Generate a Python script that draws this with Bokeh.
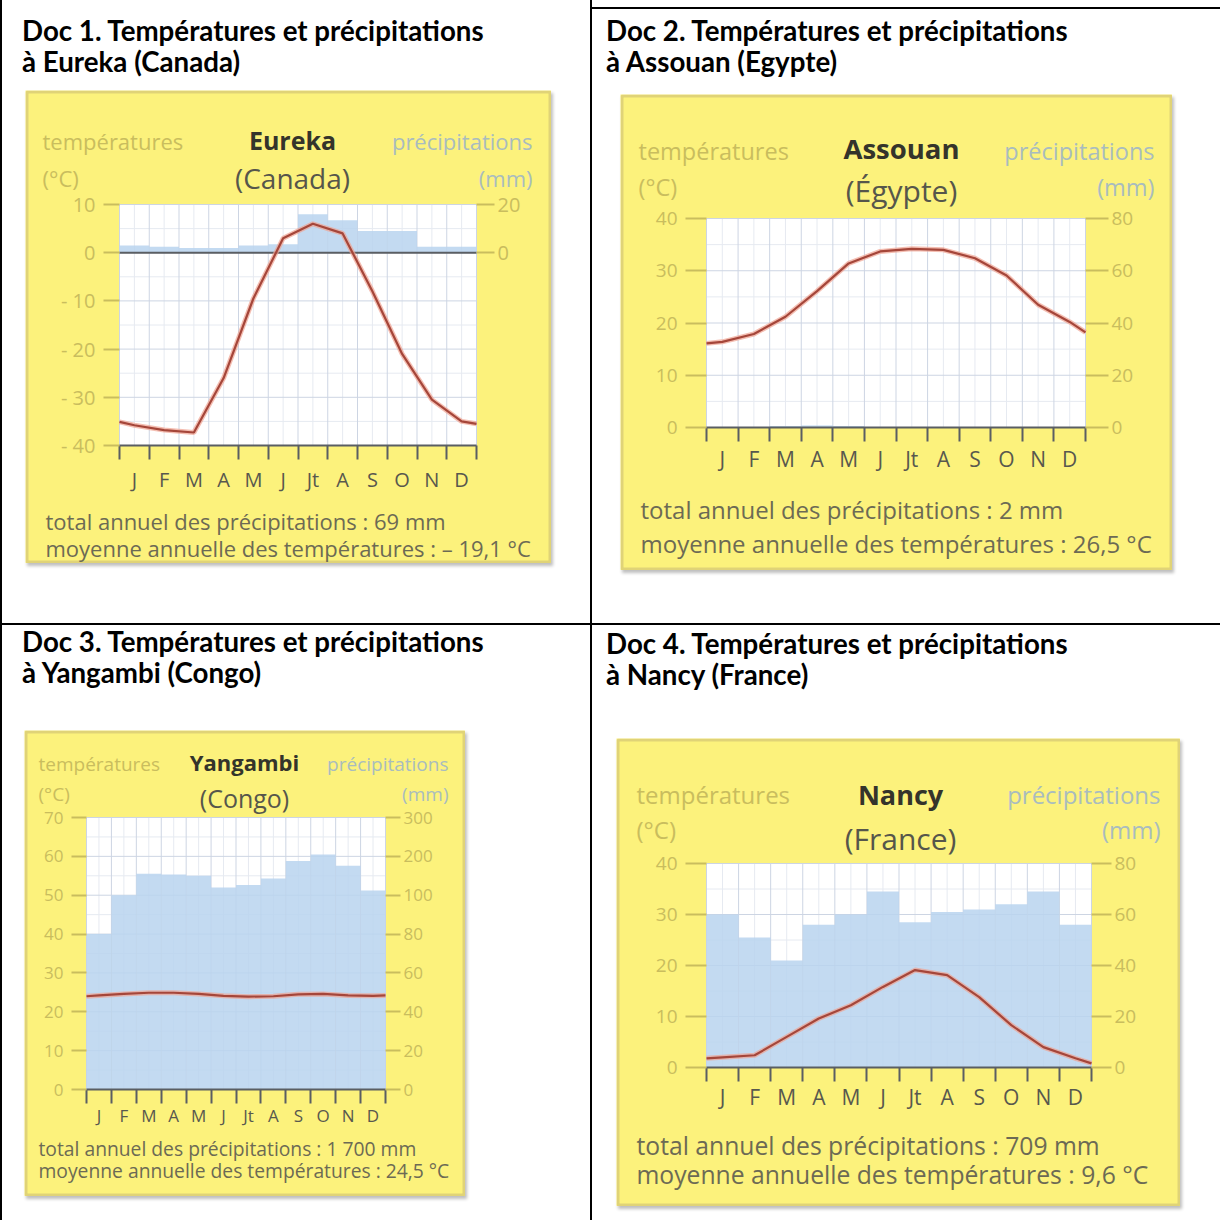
from bokeh.plotting import figure
from bokeh.models import Range1d, LinearAxis, FixedTicker, Label, BoxAnnotation, Div
from bokeh.layouts import row, column
from bokeh.embed import file_html
from bokeh.resources import INLINE

# ---------------- data ----------------
MONTHS = ["J", "F", "M", "A", "M", "J", "Jt", "A", "S", "O", "N", "D"]

HEAD_1 = ["Doc 1. Températures et précipitations", "à Eureka (Canada)"]
HEAD_2 = ["Doc 2. Températures et précipitations", "à Assouan (Egypte)"]
HEAD_3 = ["Doc 3. Températures et précipitations", "à Yangambi (Congo)"]
HEAD_4 = ["Doc 4. Températures et précipitations", "à Nancy (France)"]

# Eureka (Canada)
EUR_TEMP = [-35.8, -36.8, -37.3, -26.0, -9.5, 3.0, 6.0, 4.0, -8.0, -21.0, -30.5, -35.0]
EUR_TEMP_EDGES = [-35.1, -35.5]
EUR_PREC = [3, 2.5, 2, 2, 3, 3.5, 16, 13.5, 9, 9, 2.5, 2.5]
EUR_TEMP_TICKS = [-40, -30, -20, -10, 0, 10]
EUR_PREC_TICKS = [0, 20]
EUR_TEXT = ["Eureka", "(Canada)", "total annuel des précipitations : 69 mm",
            "moyenne annuelle des températures : – 19,1 °C"]

# Assouan (Egypte)
ASS_TEMP = [16.4, 17.9, 21.2, 26.1, 31.4, 33.7, 34.2, 34.0, 32.4, 29.1, 23.5, 20.2]
ASS_TEMP_EDGES = [16.1, 18.2]
ASS_PREC = [0, 0, 0.6, 0.8, 0.6, 0, 0, 0, 0, 0, 0, 0]
ASS_TEMP_TICKS = [0, 10, 20, 30, 40]
ASS_PREC_TICKS = [0, 20, 40, 60, 80]
ASS_TEXT = ["Assouan", "(Égypte)", "total annuel des précipitations : 2 mm",
            "moyenne annuelle des températures : 26,5 °C"]

# Yangambi (Congo)
YAN_TEMP = [24.2, 24.6, 24.9, 24.9, 24.6, 24.1, 23.9, 24.0, 24.5, 24.6, 24.2, 24.1]
YAN_TEMP_EDGES = [24.0, 24.2]
YAN_PREC = [80, 100, 155, 153, 150, 120, 126, 143, 188, 205, 176, 112]
YAN_TEMP_TICKS = [0, 10, 20, 30, 40, 50, 60, 70]
YAN_PREC_TICKS = [0, 20, 40, 60, 80, 100, 200, 300]
YAN_TEXT = ["Yangambi", "(Congo)", "total annuel des précipitations : 1 700 mm",
            "moyenne annuelle des températures : 24,5 °C"]

# Nancy (France)
NAN_TEMP = [2.0, 2.4, 6.0, 9.6, 12.2, 15.8, 19.1, 18.1, 13.8, 8.3, 4.0, 1.8]
NAN_TEMP_EDGES = [1.8, 0.8]
NAN_PREC = [60, 51, 42, 56, 60, 69, 57, 61, 62, 64, 69, 56]
NAN_TEMP_TICKS = [0, 10, 20, 30, 40]
NAN_PREC_TICKS = [0, 20, 40, 60, 80]
NAN_TEXT = ["Nancy", "(France)", "total annuel des précipitations : 709 mm",
            "moyenne annuelle des températures : 9,6 °C"]

# ---------------- style ----------------
FONT = "Open Sans"
YELLOW = "#fcf27c"
BROWN = "#a08b6e"
OLIVE = "#c9bd5e"
PREC_COL = "#a9bcbf"
DARK = "#5a5e63"
MONTH_COL = "#58584e"
FOOT_COL = "#6c6a54"
TITLE_COL = "#34342b"
SUB_COL = "#56564b"
GRID = "#cdd5e3"
GRID_MINOR = "#e6eaf1"
BAR = "#b9d4ef"
LINE = "#a5463a"
HALO = "#efa291"


def mm_eq(v):
    # scale break above 100 mm (10 mm per degree instead of 2)
    return v if v <= 100 else 100 + (v - 100) / 5.0


def make_chart(c):
    bl, bt, br, bb = c["box"]
    pl, pt, pr, pb = c["plot"]
    ymin, ymax = c["yr"]

    def dx(px):
        return (px - pl) / (pr - pl) * 24.0

    def dy(py):
        return ymin + (pb - py) / (pb - pt) * (ymax - ymin)

    p = figure(width=br - bl, height=bb - bt,
               x_range=Range1d(dx(bl), dx(br)), y_range=Range1d(dy(bb), dy(bt)),
               x_axis_location=None, y_axis_location=None,
               output_backend="svg", toolbar_location=None, tools="",
               min_border=0, min_border_left=0, min_border_right=0,
               min_border_top=0, min_border_bottom=0,
               background_fill_color=YELLOW, border_fill_color=YELLOW,
               outline_line_color=None, margin=c["margin"],
               styles={"box-shadow": "2px 3px 3px rgba(0,0,0,0.25)"})
    p.grid.visible = False
    p.extra_y_ranges = {"mm": Range1d(2 * dy(bb), 2 * dy(bt))}

    tt = c["tticks"]
    # white plot area
    p.quad(left=[0], right=[24], bottom=[ymin], top=[ymax], fill_color="white", line_color=None)
    # grid (minor then major)
    vminor = list(range(1, 24, 2))
    vmajor = list(range(0, 25, 2))
    hminor = [t + 5 for t in tt[:-1]]
    p.segment(x0=vminor, x1=vminor, y0=[ymin] * len(vminor), y1=[ymax] * len(vminor),
              line_color=GRID_MINOR, line_width=1)
    p.segment(x0=[0] * len(hminor), x1=[24] * len(hminor), y0=hminor, y1=hminor,
              line_color=GRID_MINOR, line_width=1)
    p.segment(x0=vmajor, x1=vmajor, y0=[ymin] * len(vmajor), y1=[ymax] * len(vmajor),
              line_color=GRID, line_width=1)
    p.segment(x0=[0] * len(tt), x1=[24] * len(tt), y0=tt, y1=tt, line_color=GRID, line_width=1)

    # precipitation bars
    prec_eq = [mm_eq(v) for v in c["prec"]]
    p.quad(left=[2 * i for i in range(12)], right=[2 * i + 2 for i in range(12)],
           bottom=0, top=prec_eq, y_range_name="mm",
           fill_color=BAR, fill_alpha=0.85, line_color=None)

    if ymin < 0:
        p.segment(x0=[0], x1=[24], y0=[0], y1=[0], line_color=DARK, line_width=2)

    # temperature curve
    xs = [0] + [2 * i + 1 for i in range(12)] + [24]
    ys = [c["edges"][0]] + list(c["temp"]) + [c["edges"][1]]
    p.line(xs, ys, line_color=HALO, line_width=5, line_alpha=0.7)
    p.line(xs, ys, line_color=LINE, line_width=2.2)

    # left axis (temperatures)
    ya = LinearAxis(fixed_location=0, bounds=(ymin, ymax),
                    ticker=FixedTicker(ticks=tt, minor_ticks=[]),
                    major_label_overrides={t: (f"- {abs(t)}" if t < 0 else str(t)) for t in tt},
                    axis_line_color=None, major_tick_out=c["tick_l"], major_tick_in=0,
                    minor_tick_out=0, minor_tick_in=0,
                    major_tick_line_color=OLIVE, major_tick_line_width=2,
                    major_label_text_color=OLIVE, major_label_text_font=FONT,
                    major_label_text_font_size=f"{c['fs_tick']}px", major_label_standoff=8)
    p.add_layout(ya, "left")

    # right axis (precipitations)
    pt_pos = [int(round(mm_eq(v))) for v in c["pticks"]]
    ra = LinearAxis(y_range_name="mm", fixed_location=24, bounds=(2 * ymin, 2 * ymax),
                    ticker=FixedTicker(ticks=pt_pos, minor_ticks=[]),
                    major_label_overrides={q: str(v) for q, v in zip(pt_pos, c["pticks"])},
                    axis_line_color=None, major_tick_out=c["tick_r"], major_tick_in=0,
                    minor_tick_out=0, minor_tick_in=0,
                    major_tick_line_color=OLIVE, major_tick_line_width=2,
                    major_label_text_color=OLIVE, major_label_text_font=FONT,
                    major_label_text_font_size=f"{c['fs_tick']}px", major_label_standoff=3)
    p.add_layout(ra, "right")

    # bottom axis (months)
    xa = LinearAxis(fixed_location=ymin, bounds=(0, 24),
                    ticker=FixedTicker(ticks=list(range(1, 24, 2)), minor_ticks=list(range(0, 25, 2))),
                    major_label_overrides={2 * i + 1: m for i, m in enumerate(MONTHS)},
                    major_tick_out=0, major_tick_in=0, major_tick_line_color=None,
                    minor_tick_out=14, minor_tick_in=0, minor_tick_line_color=DARK,
                    minor_tick_line_width=2, axis_line_color=DARK, axis_line_width=2,
                    major_label_standoff=c["m_standoff"], major_label_text_font=FONT,
                    major_label_text_font_size=f"{c['fs_month']}px",
                    major_label_text_color=MONTH_COL)
    p.add_layout(xa, "below")

    # frame of the yellow box
    p.add_layout(BoxAnnotation(left=dx(bl + 1.5), right=dx(br - 1.5),
                               bottom=dy(bb - 1.5), top=dy(bt + 1.5),
                               fill_color=None, line_color=BROWN, line_width=3))

    # texts
    for (txt, px, py, align, size, color, bold) in c["texts"]:
        p.add_layout(Label(x=dx(px), y=dy(py), text=txt, text_align=align,
                           text_baseline="alphabetic", text_font=FONT,
                           text_font_size=f"{size}px", text_color=color,
                           text_font_style="bold" if bold else "normal"))
    return p


def texts(names, pos, sizes):
    (tl, tr, cx, y1, y2, ty1, ty2, fx, fy1, fy2) = pos
    (s_small, s_title, s_sub, s_foot) = sizes
    return [
        ("températures", tl, y1, "left", s_small, OLIVE, False),
        ("(°C)", tl, y2, "left", s_small, OLIVE, False),
        (names[0], cx, ty1, "center", s_title, TITLE_COL, True),
        (names[1], cx, ty2, "center", s_sub, SUB_COL, False),
        ("précipitations", tr, y1, "right", s_small, PREC_COL, False),
        ("(mm)", tr, y2, "right", s_small, PREC_COL, False),
        (names[2], fx, fy1, "left", s_foot, FOOT_COL, False),
        (names[3], fx, fy2, "left", s_foot, FOOT_COL, False),
    ]


c1 = dict(box=(25, 90, 551, 563), plot=(119, 204, 476, 445), yr=(-40, 10),
          tticks=EUR_TEMP_TICKS, pticks=EUR_PREC_TICKS, temp=EUR_TEMP, edges=EUR_TEMP_EDGES,
          prec=EUR_PREC, tick_l=16, tick_r=18, fs_tick=20, fs_month=20, m_standoff=6,
          margin=(13, 0, 0, 23),
          texts=texts(EUR_TEXT, (42, 532, 292, 140, 177, 139, 177, 45, 520, 547), (22, 25, 28, 22)))
c2 = dict(box=(620, 94, 1172, 570), plot=(706, 218, 1085, 427), yr=(0, 40),
          tticks=ASS_TEMP_TICKS, pticks=ASS_PREC_TICKS, temp=ASS_TEMP, edges=ASS_TEMP_EDGES,
          prec=ASS_PREC, tick_l=21, tick_r=23, fs_tick=19, fs_month=21, m_standoff=3,
          margin=(17, 0, 0, 28),
          texts=texts(ASS_TEXT, (638, 1154, 901, 150, 186, 148, 190, 640, 509, 543), (23.5, 27.5, 30, 24)))
c3 = dict(box=(24, 730, 465, 1196), plot=(86, 817, 385, 1089), yr=(0, 70),
          tticks=YAN_TEMP_TICKS, pticks=YAN_PREC_TICKS, temp=YAN_TEMP, edges=YAN_TEMP_EDGES,
          prec=YAN_PREC, tick_l=15, tick_r=15, fs_tick=17, fs_month=17, m_standoff=0,
          margin=(42, 0, 0, 22),
          texts=texts(YAN_TEXT, (38, 448, 244, 763, 793, 761, 797, 38, 1148, 1170), (19, 22, 25, 19.3)))
c4 = dict(box=(616, 738, 1180, 1206), plot=(706, 863, 1091, 1067), yr=(0, 40),
          tticks=NAN_TEMP_TICKS, pticks=NAN_PREC_TICKS, temp=NAN_TEMP, edges=NAN_TEMP_EDGES,
          prec=NAN_PREC, tick_l=21, tick_r=20, fs_tick=19, fs_month=21, m_standoff=1,
          margin=(48, 0, 0, 24),
          texts=texts(NAN_TEXT, (636, 1160, 900, 794, 829, 794, 838, 636, 1145, 1174), (24, 27, 30, 24.7)))

charts = [make_chart(c) for c in (c1, c2, c3, c4)]


def heading(lines, width, margin):
    html = ('<div style="font-family:Lato;font-weight:bold;font-size:27.7px;'
            'line-height:31px;color:#000;white-space:nowrap">' + "<br>".join(lines) + "</div>")
    return Div(text=html, width=width, height=62, margin=margin)


def vline(h):
    return Div(text="", width=2, height=h, margin=(0, 0, 0, 0), styles={"background-color": "#000"})


def hline(w, margin=(0, 0, 0, 0)):
    return Div(text="", width=w, height=2, margin=margin, styles={"background-color": "#000"})


cell1 = column(heading(HEAD_1, 568, (15, 0, 0, 20)), charts[0])
cell2 = column(hline(628, (7, 0, 0, 0)), heading(HEAD_2, 614, (6, 0, 0, 14)), charts[1])
cell3 = column(heading(HEAD_3, 568, (1, 0, 0, 20)), charts[2])
cell4 = column(heading(HEAD_4, 614, (3, 0, 0, 14)), charts[3])

top = row(vline(623), cell1, vline(623), cell2)
bottom = row(vline(595), cell3, vline(595), cell4)
root = column(top, hline(1220), bottom)

open("out.html", "w").write(file_html(root, INLINE))
